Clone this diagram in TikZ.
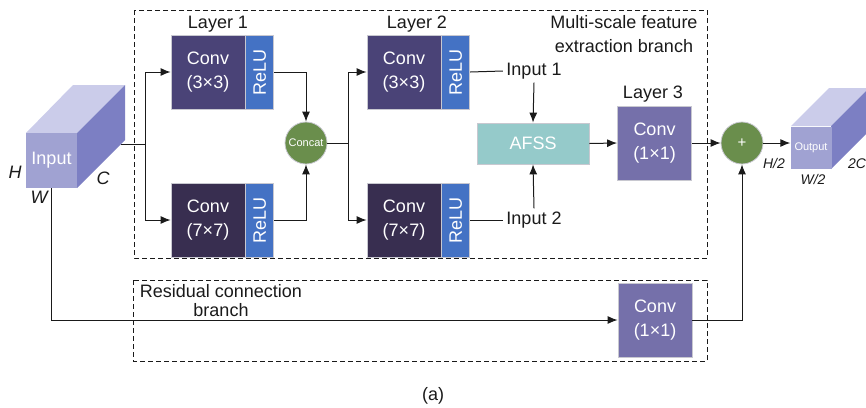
\documentclass[tikz,border=0pt]{standalone}
\usepackage{fontspec}
\setmainfont{Liberation Sans}
\usetikzlibrary{arrows.meta,calc,positioning}
\definecolor{NetInk}{HTML}{1A1A1A}
\definecolor{NetEdge}{HTML}{C8C8D0}
\definecolor{ConvDeep}{HTML}{4A4377}
\definecolor{ConvDark}{HTML}{382E50}
\definecolor{ConvSoft}{HTML}{7570AA}
\definecolor{NetRelu}{HTML}{4472C4}
\definecolor{NetGreen}{HTML}{6A8E4C}
\definecolor{NetTeal}{HTML}{95CACA}
\definecolor{CubeFront}{HTML}{A0A2D2}
\definecolor{CubeTop}{HTML}{CBCCEA}
\definecolor{CubeSide}{HTML}{7C7FC3}
\tikzset{
  every node/.style={font=\fontsize{18}{24}\selectfont, text=NetInk},
  block/.style={draw=NetEdge, line width=0.8pt, text=white, align=center, inner sep=0pt},
  convbox/.style={block, minimum width=74pt, minimum height=74pt},
  relubox/.style={block, fill=NetRelu, rotate=90, anchor=north, minimum width=74pt, minimum height=28pt},
  joint/.style={circle, draw=NetEdge, line width=0.8pt, fill=NetGreen, minimum size=42pt, inner sep=0pt, text=white},
  face/.style={fill=CubeFront, text=white, inner sep=0pt},
  frame/.style={draw=NetInk, line width=0.8pt, dash pattern=on 5pt off 3pt},
  link/.style={draw=NetInk, line width=1pt},
  flow/.style={link, -{Latex[length=10pt,width=8pt]}},
  dim/.style={font=\fontsize{18}{21}\selectfont\itshape},
  smalldim/.style={font=\fontsize{14}{16}\selectfont\itshape},
}

\begin{document}
\begin{tikzpicture}[x=1pt, y=-1pt]
  \useasboundingbox (0,0) rectangle (866,407);
  % Branch frames
  \draw[frame] (134,10) rectangle (707,258);
  \draw[frame] (133,280) rectangle (707,361);
  \node[align=center] (mstext) at (624,34) {Multi-scale feature\\extraction branch};
  \node[align=center, font=\fontsize{18}{19}\selectfont] (restext) at (221,301) {Residual connection\\branch};

  % Input tensor
  \fill[CubeTop] (26,133) -- (73,85) -- (125,85) -- (77,133) -- cycle;
  \fill[CubeSide] (77,133) -- (125,85) -- (125,140) -- (77,188) -- cycle;
  \node[face, minimum width=51pt, minimum height=55pt] (input) at (51.5,160.5) {Input};
  \node[dim] (hlbl) at (15,172) {H};
  \node[dim] (clbl) at (103,178) {C};
  \node[dim] (wlbl) at (39,197) {W};
  \coordinate (inport) at (121,144);

  % Layers 1 and 2: conv + ReLU
  \foreach \name/\x/\y/\k/\col in {c1/208/72/3/ConvDeep, c2/208/220/7/ConvDark,
                                   c3/404/72/3/ConvDeep, c4/404/220/7/ConvDark} {
    \node[convbox, fill=\col] (\name) at (\x,\y) {Conv\\(\k×\k)};
    \node[relubox] (\name r) at (\name.east) {ReLU};
  }
  \node (lay1) at (218,24) {Layer 1};
  \node (lay2) at (417,24) {Layer 2};
  \node[joint, font=\fontsize{11}{13}\selectfont] (concat) at (306,143) {Concat};

  % AFSS and layer 3
  \node (in1) at (534,71) {Input 1};
  \node (in2) at (534,220) {Input 2};
  \node[block, fill=NetTeal, minimum width=112pt, minimum height=41pt] (afss) at (533,143.5) {AFSS};
  \node[convbox, fill=ConvSoft] (c5) at (654.5,143) {Conv\\(1×1)};
  \node (lay3) at (653,94) {Layer 3};
  \node[joint, font=\fontsize{15}{17}\selectfont] (plus) at (742,143) {+};

  % Residual conv
  \node[convbox, fill=ConvSoft] (c6) at (655,320) {Conv\\(1×1)};

  % Output tensor
  \fill[CubeTop] (791,126) -- (829,88) -- (869,88) -- (831,126) -- cycle;
  \fill[CubeSide] (831,126) -- (869,88) -- (869,131) -- (831,169) -- cycle;
  \node[face, minimum width=41pt, minimum height=42pt, font=\fontsize{11}{13}\selectfont] (output) at (811,147.5) {Output};
  \node[smalldim] (h2lbl) at (774,163) {H/2};
  \node[smalldim] (w2lbl) at (813,179) {W/2};
  \node[smalldim] (c2lbl) at (857,164) {2C};

  % Connections
  \coordinate (split1) at (145,144);
  \coordinate (split2) at (348,143);
  \draw[link] (inport) -- (split1);
  \draw[flow] (split1) |- (c1.west);
  \draw[flow] (split1) |- (c2.west);
  \draw[flow] (c1r.south) -| (concat.north);
  \draw[flow] (c2r.south) -| (concat.south);
  \draw[link] (concat.east) -- (split2);
  \draw[flow] (split2) |- (c3.west);
  \draw[flow] (split2) |- (c4.west);
  \draw[link] (c3r.south) -- (in1.west);
  \draw[link] (c4r.south) -- (in2.west);
  \draw[flow] (in1.south) -- (afss.north);
  \draw[flow] (in2.north) -- (afss.south);
  \draw[flow] (afss.east) -- (c5.west);
  \draw[flow] (c5.east) -- (plus.west);
  \draw[flow] (plus.east) -- (output.west |- plus.east);
  \draw[flow] (input.south) |- (c6.west);
  \draw[flow] (c6.east) -| (plus.south);

  \node (caption) at (433,396) {(a)};
\end{tikzpicture}
\end{document}
